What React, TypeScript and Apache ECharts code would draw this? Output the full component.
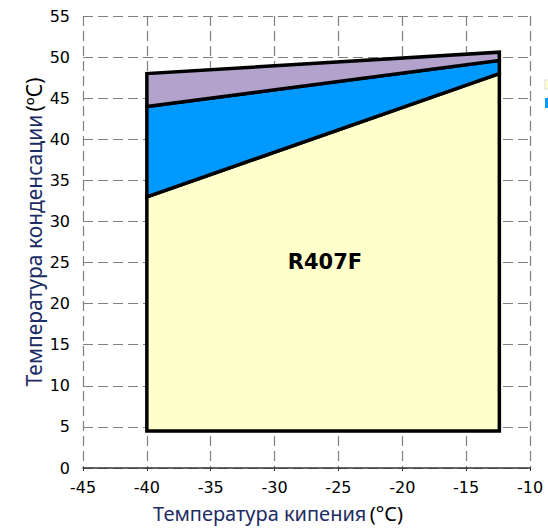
import React, { useEffect, useRef } from "react";
import * as echarts from "echarts";

// Evaporating temperature boundaries (°C)
const evapX = [-40, -12.4];
// Condensing temperature boundaries (°C) at each evapX
const bottomLine = [4.5, 4.5];
const yellowTop = [33, 48];
const blueTop = [44, 49.6];
const purpleTop = [48, 50.6];

const regionLower = [bottomLine, yellowTop, blueTop];
const regionUpper = [yellowTop, blueTop, purpleTop];
const regionColors = ["#FFFFCC", "#0099FF", "#B3A2CC"];

const xTicks = { min: -45, max: -10, interval: 5 };
const yTicks = { min: 0, max: 55, interval: 5 };

export default function App() {
  const ref = useRef<HTMLDivElement>(null);
  useEffect(() => {
    if (!ref.current) return;
    const chart = echarts.init(ref.current, undefined, { renderer: "svg" });
    const splitLine = {
      show: true,
      lineStyle: { color: "#808080", width: 1.2, type: [10, 5] as any },
    };
    chart.setOption({
      animation: false,
      grid: { left: 83, right: 18, top: 16, bottom: 60 },
      xAxis: {
        type: "value",
        min: xTicks.min,
        max: xTicks.max,
        interval: xTicks.interval,
        axisLine: { show: true, onZero: false, lineStyle: { color: "#333", width: 1.5 } },
        axisTick: { show: true, length: 3, lineStyle: { color: "#333" } },
        axisLabel: {
          color: "#000",
          fontSize: 16,
          fontFamily: "DejaVu Sans",
          margin: 11,
        },
        splitLine,
      },
      yAxis: {
        type: "value",
        min: yTicks.min,
        max: yTicks.max,
        interval: yTicks.interval,
        axisLine: { show: false },
        axisTick: { show: false },
        axisLabel: {
          color: "#000",
          fontSize: 16,
          fontFamily: "DejaVu Sans",
          margin: 13,
        },
        splitLine,
      },
      series: [
        {
          type: "custom",
          data: [[0], [1], [2]],
          renderItem: (params: any, api: any) => {
            const i = api.value(0);
            const lo = regionLower[i];
            const up = regionUpper[i];
            const pts = [
              api.coord([evapX[0], lo[0]]),
              api.coord([evapX[1], lo[1]]),
              api.coord([evapX[1], up[1]]),
              api.coord([evapX[0], up[0]]),
            ];
            return {
              type: "polygon",
              shape: { points: pts },
              style: {
                fill: regionColors[i],
                stroke: "#000",
                lineWidth: 3.5,
                lineJoin: "miter",
              },
            };
          },
          z: 5,
        },
      ],
      graphic: [
        {
          type: "text",
          x: 325,
          y: 262,
          z: 10,
          style: {
            text: "R407F",
            fill: "#000",
            font: "bold 21px 'DejaVu Sans'",
            align: "center",
            verticalAlign: "middle",
          },
        },
        {
          type: "text",
          x: 278,
          y: 513,
          style: {
            text: "{a|Температура кипения} {b|(°C)}",
            align: "center",
            verticalAlign: "middle",
            rich: {
              a: { fill: "#1c2c64", fontSize: 20, fontFamily: "Noto Sans", lineHeight: 22 },
              b: { fill: "#000", fontSize: 20, fontFamily: "Noto Sans", lineHeight: 22 },
            },
          },
        },
        {
          type: "text",
          x: 34,
          y: 232,
          rotation: Math.PI / 2,
          style: {
            text: "{a|Температура конденсации} {b|(ºС)}",
            align: "center",
            verticalAlign: "middle",
            rich: {
              a: { fill: "#1c2c64", fontSize: 21, fontFamily: "Noto Sans" },
              b: { fill: "#000", fontSize: 21, fontFamily: "Noto Sans" },
            },
          },
        },
        {
          type: "rect",
          shape: { x: 545, y: 80, width: 10, height: 9 },
          style: { fill: "#FFFFCC", stroke: "#ddd", lineWidth: 1 },
        },
        {
          type: "rect",
          shape: { x: 545, y: 98, width: 10, height: 10 },
          style: { fill: "#0099FF" },
        },
      ],
    });
    return () => chart.dispose();
  }, []);
  return (
    <div
      ref={ref}
      style={{ position: "absolute", left: 0, top: 0, width: 548, height: 528 }}
    />
  );
}
